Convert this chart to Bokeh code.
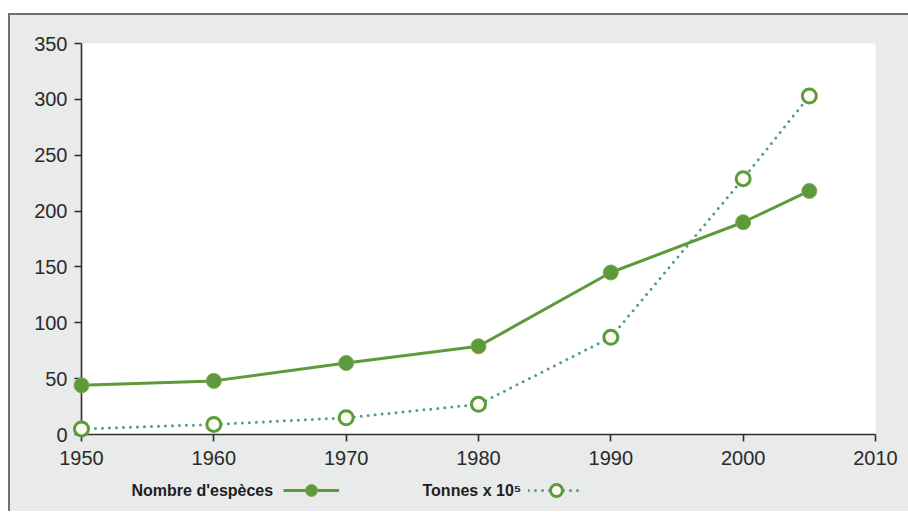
from bokeh.plotting import figure
from bokeh.layouts import column
from bokeh.models import Range1d, FixedTicker, Label, Legend, LegendItem
from bokeh.embed import file_html
from bokeh.resources import INLINE

# ---- data ----
years = [1950, 1960, 1970, 1980, 1990, 2000, 2005]
especes = [44, 48, 64, 79, 145, 190, 218]
tonnes = [5, 9, 15, 27, 87, 229, 303]
x_ticks = [1950, 1960, 1970, 1980, 1990, 2000, 2010]
y_ticks = [0, 50, 100, 150, 200, 250, 300, 350]
label_especes = "Nombre d'espèces"
label_tonnes = "Tonnes x 10⁵"

GREEN = "#5c9a3c"
DOTS = "#4f9a9c"
BG = "#e9eaea"
FONT = "Liberation Sans"

solid_line = dict(line_color=GREEN, line_width=3)
solid_pt = dict(size=15, fill_color=GREEN, line_color="#86a94a", line_width=1)
dot_line = dict(line_color=DOTS, line_width=3, line_dash="0 7", line_cap="round")
dot_pt = dict(size=14, fill_color="#fbfbf0", line_color=GREEN, line_width=3)

# ---- main chart ----
p = figure(width=898, height=461, output_backend="svg", toolbar_location=None,
           x_range=Range1d(1950, 2010), y_range=Range1d(0, 350),
           min_border_left=71, min_border_top=28, min_border_right=33, min_border_bottom=42,
           background_fill_color="white", border_fill_color=BG)
p.outline_line_color = None
p.grid.visible = False

for ax in (p.xaxis[0], p.yaxis[0]):
    ax.axis_line_color = "#2e2e2e"
    ax.axis_line_width = 1.6
    ax.major_tick_line_color = "#2e2e2e"
    ax.major_tick_line_width = 1.6
    ax.major_tick_out = 7
    ax.major_tick_in = 0
    ax.minor_tick_line_color = None
    ax.major_label_text_font = FONT
    ax.major_label_text_font_size = "20px"
    ax.major_label_text_color = "#2a2a2a"
p.xaxis[0].ticker = FixedTicker(ticks=x_ticks)
p.yaxis[0].ticker = FixedTicker(ticks=y_ticks)
p.xaxis[0].major_label_standoff = 9
p.yaxis[0].major_label_standoff = 7

p.line(years, tonnes, level="overlay", **dot_line)
p.scatter(years, tonnes, level="overlay", **dot_pt)
p.line(years, especes, level="overlay", **solid_line)
p.scatter(years, especes, level="overlay", **solid_pt)

# ---- legend strip ----
q = figure(width=898, height=35, output_backend="svg", toolbar_location=None,
           x_axis_location=None, y_axis_location=None,
           min_border_left=0, min_border_right=0, min_border_top=0, min_border_bottom=0,
           background_fill_color=None, border_fill_color=BG)
q.outline_line_color = None
q.grid.visible = False
ql1 = q.line(years, especes, visible=False, **solid_line)
qs1 = q.scatter(years, especes, visible=False, **solid_pt)
ql2 = q.line(years, tonnes, visible=False, **dot_line)
qs2 = q.scatter(years, tonnes, visible=False, **dot_pt)

common = dict(glyph_width=56, glyph_height=30, label_standoff=0, padding=0, margin=0,
              spacing=0, border_line_alpha=0, background_fill_alpha=0,
              label_text_font_size="4px", orientation="horizontal")
q.add_layout(Legend(items=[LegendItem(label=" ", renderers=[ql1, qs1])],
                    location=(202, 6), **common))
q.add_layout(Legend(items=[LegendItem(label=" ", renderers=[ql2, qs2])],
                    location=(447, 6), **common))

lab_kw = dict(x_units="screen", y_units="screen", text_font=FONT, text_font_size="16px",
              text_font_style="bold", text_color="#1e1e1e", text_baseline="middle",
              text_align="left")
q.add_layout(Label(x=50, y=21, text=label_especes, **lab_kw))
q.add_layout(Label(x=341, y=21, text=label_tonnes, **lab_kw))

layout = column(p, q, spacing=0, margin=(13, 0, 0, 8),
                styles={"border-left": "2px solid #707070", "border-top": "2px solid #707070",
                        "background-color": BG})

open("out.html", "w").write(file_html(layout, INLINE))
